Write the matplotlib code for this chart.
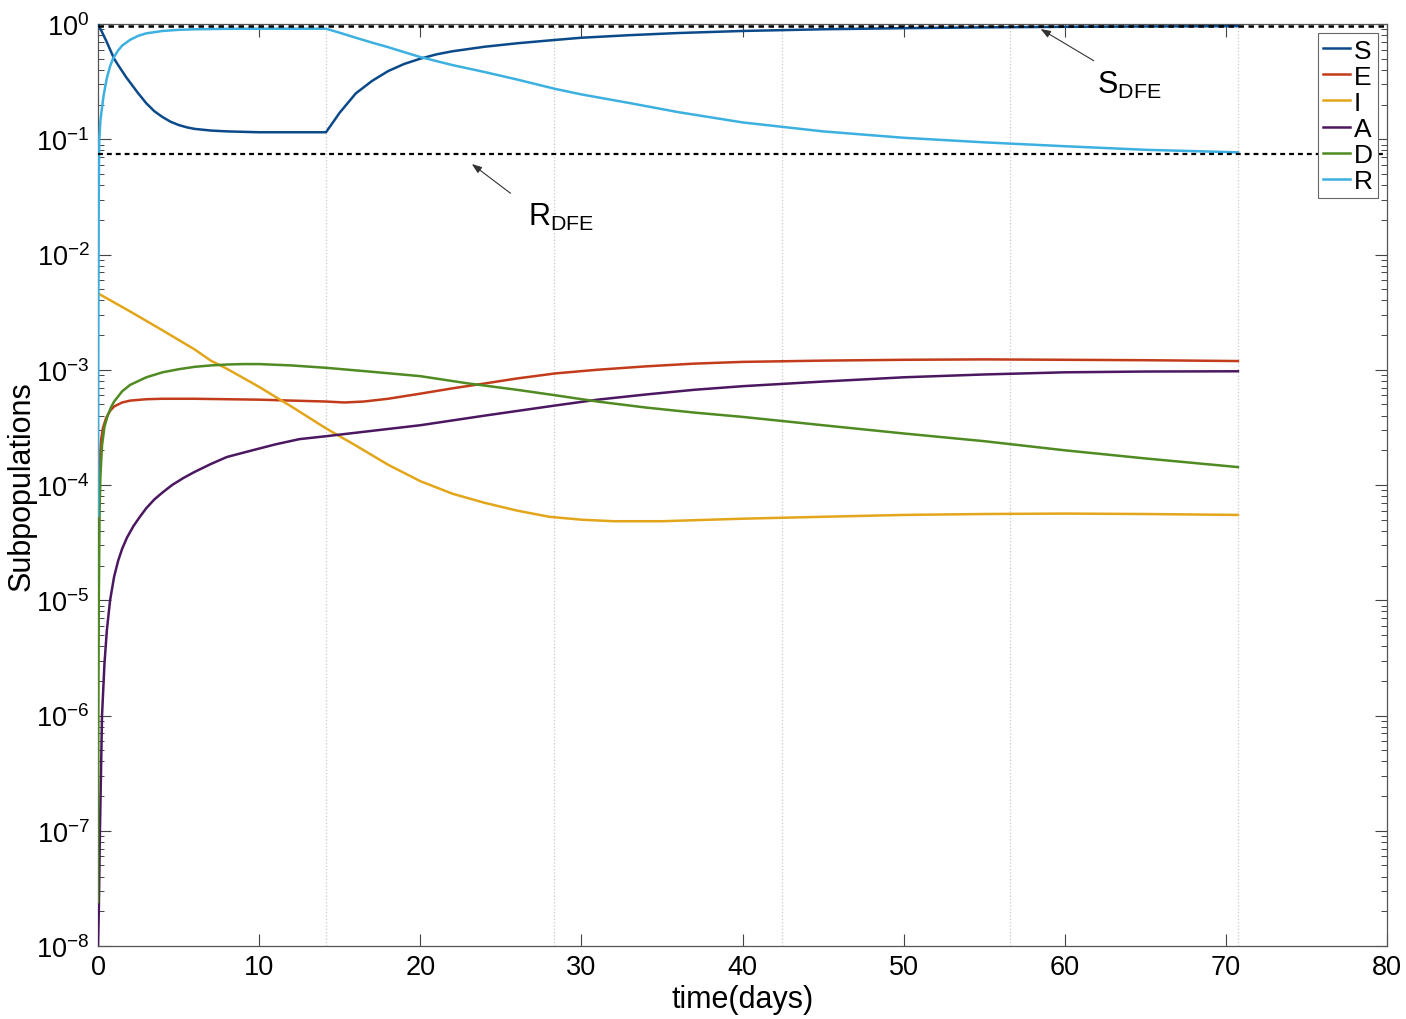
import numpy as np
import matplotlib
matplotlib.use('Agg')
import matplotlib.pyplot as plt
from matplotlib.ticker import LogLocator, NullFormatter, LogFormatterSciNotation

plt.rcParams['font.family'] = ['Liberation Sans', 'DejaVu Sans']
plt.rcParams['mathtext.fontset'] = 'custom'
plt.rcParams['mathtext.rm'] = 'Liberation Sans'
plt.rcParams['mathtext.it'] = 'Liberation Sans:italic'
plt.rcParams['mathtext.bf'] = 'Liberation Sans:bold'

# Subpopulation curves (time in days)
t_S = [0, 0.25, 0.5, 0.75, 1, 1.25, 1.5, 1.75, 2, 2.5, 3, 3.5, 4, 4.5, 5, 5.5, 6,
       7, 8, 10, 12, 14.15, 14.5, 15, 16, 17, 18, 19, 20, 21, 22, 24, 26, 28, 30,
       33, 36, 40, 45, 50, 55, 60, 65, 70.75]
S = [1.0, 0.85, 0.72, 0.6, 0.5, 0.44, 0.39, 0.345, 0.31, 0.25, 0.205, 0.175,
     0.156, 0.142, 0.133, 0.127, 0.123, 0.119, 0.117, 0.115, 0.115, 0.115, 0.135,
     0.17, 0.25, 0.32, 0.39, 0.45, 0.5, 0.545, 0.58, 0.635, 0.68, 0.72, 0.76, 0.8,
     0.835, 0.87, 0.9, 0.92, 0.935, 0.945, 0.952, 0.958]

t_E = [0, 0.05, 0.1, 0.2, 0.3, 0.5, 0.75, 1, 1.5, 2, 3, 4, 6, 8, 10, 12, 14.15,
       15.3, 16.5, 18, 20, 22, 24, 26, 28.4, 31, 34, 37, 40, 45, 50, 55, 60, 65,
       70.75]
E = [5e-5, 1e-4, 1.6e-4, 2.5e-4, 3.1e-4, 3.8e-4, 4.4e-4, 4.8e-4, 5.2e-4, 5.4e-4,
     5.55e-4, 5.6e-4, 5.6e-4, 5.55e-4, 5.5e-4, 5.4e-4, 5.3e-4, 5.2e-4, 5.3e-4,
     5.6e-4, 6.2e-4, 6.9e-4, 7.6e-4, 8.4e-4, 9.3e-4, 1.0e-3, 1.07e-3, 1.13e-3,
     1.17e-3, 1.2e-3, 1.22e-3, 1.23e-3, 1.22e-3, 1.21e-3, 1.19e-3]

t_I = [0, 2, 4, 6, 7, 8, 10, 12, 14.15, 16, 18, 20, 22, 24, 26, 28, 30, 32, 35,
       40, 45, 50, 55, 60, 65, 70.75]
I = [4.6e-3, 3.2e-3, 2.2e-3, 1.5e-3, 1.2e-3, 1.02e-3, 7.1e-4, 4.8e-4, 3.1e-4,
     2.2e-4, 1.5e-4, 1.08e-4, 8.4e-5, 7.0e-5, 6.0e-5, 5.3e-5, 5.0e-5, 4.85e-5,
     4.85e-5, 5.1e-5, 5.3e-5, 5.5e-5, 5.6e-5, 5.65e-5, 5.6e-5, 5.5e-5]

t_A = [0, 0.05, 0.12, 0.25, 0.4, 0.55, 0.75, 1.0, 1.25, 1.5, 1.8, 2.2, 2.6, 3.0,
       3.5, 4.0, 4.6, 5.3, 6.0, 7.0, 8.0, 9.4, 11, 12.5, 14.15, 17, 20, 24, 28.4,
       31, 34, 37, 40, 45, 50, 55, 60, 65, 70.75]
A = [1e-8, 2e-8, 1e-7, 1e-6, 2.8e-6, 5.5e-6, 1e-5, 1.6e-5, 2.2e-5, 2.8e-5,
     3.5e-5, 4.4e-5, 5.3e-5, 6.3e-5, 7.5e-5, 8.6e-5, 1.0e-4, 1.15e-4, 1.3e-4,
     1.52e-4, 1.75e-4, 1.97e-4, 2.25e-4, 2.5e-4, 2.65e-4, 2.95e-4, 3.3e-4,
     4.0e-4, 4.9e-4, 5.5e-4, 6.1e-4, 6.7e-4, 7.2e-4, 7.9e-4, 8.6e-4, 9.1e-4,
     9.5e-4, 9.65e-4, 9.7e-4]

t_D = [0, 0.02, 0.05, 0.1, 0.15, 0.25, 0.4, 0.6, 0.8, 1, 1.5, 2, 3, 4, 5, 6, 7,
       8, 9, 10, 12, 14.15, 17, 20, 23, 26, 28.4, 31, 34, 37, 40, 45, 50, 55, 60,
       65, 70.75]
D = [2.4e-8, 1e-6, 1e-5, 6e-5, 1.2e-4, 2.2e-4, 3.2e-4, 4.0e-4, 4.7e-4, 5.3e-4,
     6.5e-4, 7.4e-4, 8.6e-4, 9.5e-4, 1.01e-3, 1.06e-3, 1.09e-3, 1.11e-3, 1.12e-3,
     1.12e-3, 1.09e-3, 1.04e-3, 9.6e-4, 8.8e-4, 7.6e-4, 6.7e-4, 6.0e-4, 5.3e-4,
     4.7e-4, 4.25e-4, 3.9e-4, 3.3e-4, 2.8e-4, 2.4e-4, 2.0e-4, 1.7e-4, 1.43e-4]

t_R = [0, 0.01, 0.02, 0.04, 0.06, 0.08, 0.15, 0.23, 0.35, 0.55, 0.75, 0.93, 1.25,
       1.5, 2, 2.5, 3, 4, 5, 6, 8, 10, 14.15, 15, 16, 17, 18, 19, 20, 22, 24, 26,
       28.4, 30, 33, 36, 40, 45, 50, 55, 60, 65, 70.75]
R = [5.4e-5, 6e-4, 0.003, 0.02, 0.06, 0.1, 0.145, 0.18, 0.24, 0.34, 0.43, 0.5,
     0.59, 0.65, 0.73, 0.79, 0.83, 0.87, 0.89, 0.9, 0.908, 0.91, 0.91, 0.84, 0.76,
     0.69, 0.63, 0.57, 0.517, 0.44, 0.383, 0.33, 0.273, 0.245, 0.206, 0.172,
     0.14, 0.117, 0.103, 0.094, 0.087, 0.081, 0.077]

# disease free equilibrium levels
S_DFE = 0.96
R_DFE = 0.0745

# vertical markers (dosing periods)
period_marks = [14.15, 28.3, 42.45, 56.6, 70.75]

series = [('S', t_S, S, '#0b4a8a'),
          ('E', t_E, E, '#c23b1a'),
          ('I', t_I, I, '#e3a51a'),
          ('A', t_A, A, '#4a1760'),
          ('D', t_D, D, '#4f8a22'),
          ('R', t_R, R, '#3cb0e0')]

fig = plt.figure(figsize=(14.06, 10.20), dpi=100)
ax = fig.add_axes([98 / 1406, 1 - 947 / 1020, 1289 / 1406, 922 / 1020])

for xm in period_marks:
    ax.axvline(xm, color='#c8c8c8', lw=0.9, ls=':', zorder=1)

for name, t, y, c in series:
    ax.plot(t, y, color=c, lw=1.8, label=name, zorder=3)

ax.axhline(S_DFE, color='black', lw=1.8, ls=(0, (2.2, 1.8)), zorder=4)
ax.axhline(R_DFE, color='black', lw=1.6, ls=(0, (2.2, 1.8)), zorder=4)

ax.set_yscale('log')
ax.set_xlim(0, 80)
ax.set_ylim(1e-8, 1)
ax.set_xticks(np.arange(0, 81, 10))
ax.yaxis.set_major_locator(LogLocator(base=10, numticks=20))
ax.yaxis.set_minor_locator(LogLocator(base=10, subs=np.arange(2, 10), numticks=20))
ax.yaxis.set_minor_formatter(NullFormatter())
ax.yaxis.set_major_formatter(LogFormatterSciNotation())

ax.tick_params(which='both', direction='in', top=True, right=True, color='#444444')
ax.tick_params(which='major', length=9, width=0.8, labelsize=19.5, pad=6)
ax.tick_params(which='minor', length=4.5, width=0.7)
for sp in ax.spines.values():
    sp.set_color('#555555')
    sp.set_linewidth(0.9)

ax.set_xlabel('time(days)', fontsize=22, labelpad=3)
ax.set_ylabel('Subpopulations', fontsize=22, labelpad=0)

arrow = dict(arrowstyle='-|>,head_length=0.6,head_width=0.22', color='#333333',
             lw=0.8, shrinkA=0, shrinkB=0)
ax.annotate('', xy=(58.5, 0.905), xytext=(61.8, 0.48), arrowprops=arrow)
ax.text(62.0, 0.30, r'S$_{\mathrm{DFE}}$', fontsize=22, ha='left', va='center')
ax.annotate('', xy=(23.2, 0.061), xytext=(25.6, 0.034), arrowprops=arrow)
ax.text(26.7, 0.0215, r'R$_{\mathrm{DFE}}$', fontsize=22, ha='left', va='center')

leg = ax.legend(loc='upper right', fontsize=19, handlelength=1.0,
                handletextpad=0.15, labelspacing=0.08, borderpad=0.2,
                borderaxespad=0.35, fancybox=False, framealpha=1,
                edgecolor='#666666')
leg.get_frame().set_linewidth(0.8)

fig.savefig('out.png', dpi=100)
